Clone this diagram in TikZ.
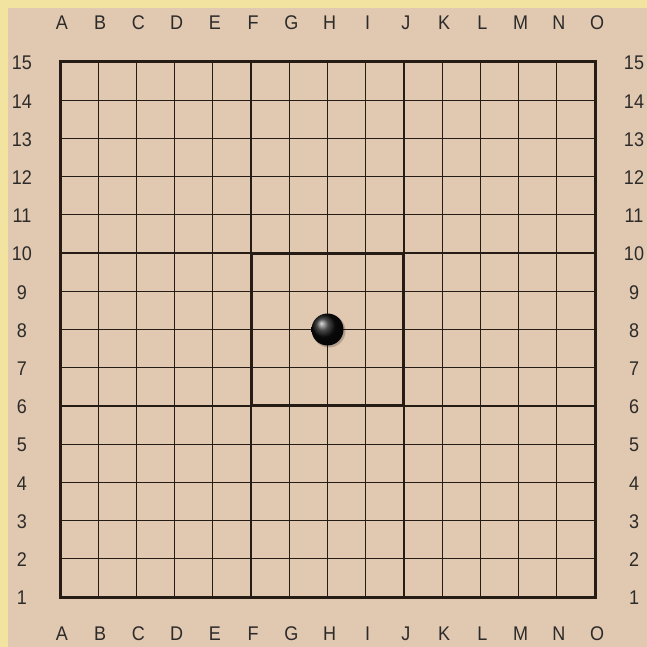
\documentclass[tikz,border=0pt]{standalone}
\usepackage{fontspec}
\setmainfont{Liberation Sans}
\definecolor{boardtan}{RGB}{224,200,177}
\definecolor{boardedge}{RGB}{242,228,160}
\definecolor{gridline}{RGB}{38,28,22}
\definecolor{labelgray}{RGB}{45,43,42}
\usetikzlibrary{calc}
\tikzset{
  coordlabel/.style={text=labelgray,font=\fontsize{18}{18}\selectfont,
                     inner sep=0pt,yscale=1.1},
  gridthin/.style={gridline,line width=1.2pt},
  gridthick/.style={gridline,line width=3pt},
}
\begin{document}
\begin{tikzpicture}[x=1pt,y=-1pt]
    \useasboundingbox (0,0) rectangle (647,647);
    \fill[boardedge] (0,0) rectangle (647,647);
    \fill[boardtan] (8,8) rectangle (647,647);
    % inner lines
    \foreach \i in {1,...,13}{
      \draw[gridthin] (60+\i*38.214,62) -- (60+\i*38.214,597);
      \draw[gridthin] (60,62+\i*38.214) -- (595,62+\i*38.214);
    }
    % outer edge and centre square
    \draw[gridthick] (60,62) rectangle (595,597);
    \draw[gridthick] (60+5*38.214,62+5*38.214)
          rectangle (60+9*38.214,62+9*38.214);
    % column letters
    \foreach \lab [count=\i from 0] in {A,...,O}{
      \node[coordlabel] (top\lab) at (62+\i*38.214,23) {\lab};
      \node[coordlabel] (bot\lab) at (62+\i*38.214,634) {\lab};
    }
    % row numbers
    \foreach \n in {1,...,15}{
      \node[coordlabel] (left\n) at (22,598-\n*38.214+38.214) {\n};
      \node[coordlabel] (right\n) at (634,598-\n*38.214+38.214) {\n};
    }
    % stone on H8
    \fill[black,opacity=0.2] (329,331) circle (16.5);
    \shade[ball color=black!95] (327.5,329.5) circle (16);
  \end{tikzpicture}
\end{document}
